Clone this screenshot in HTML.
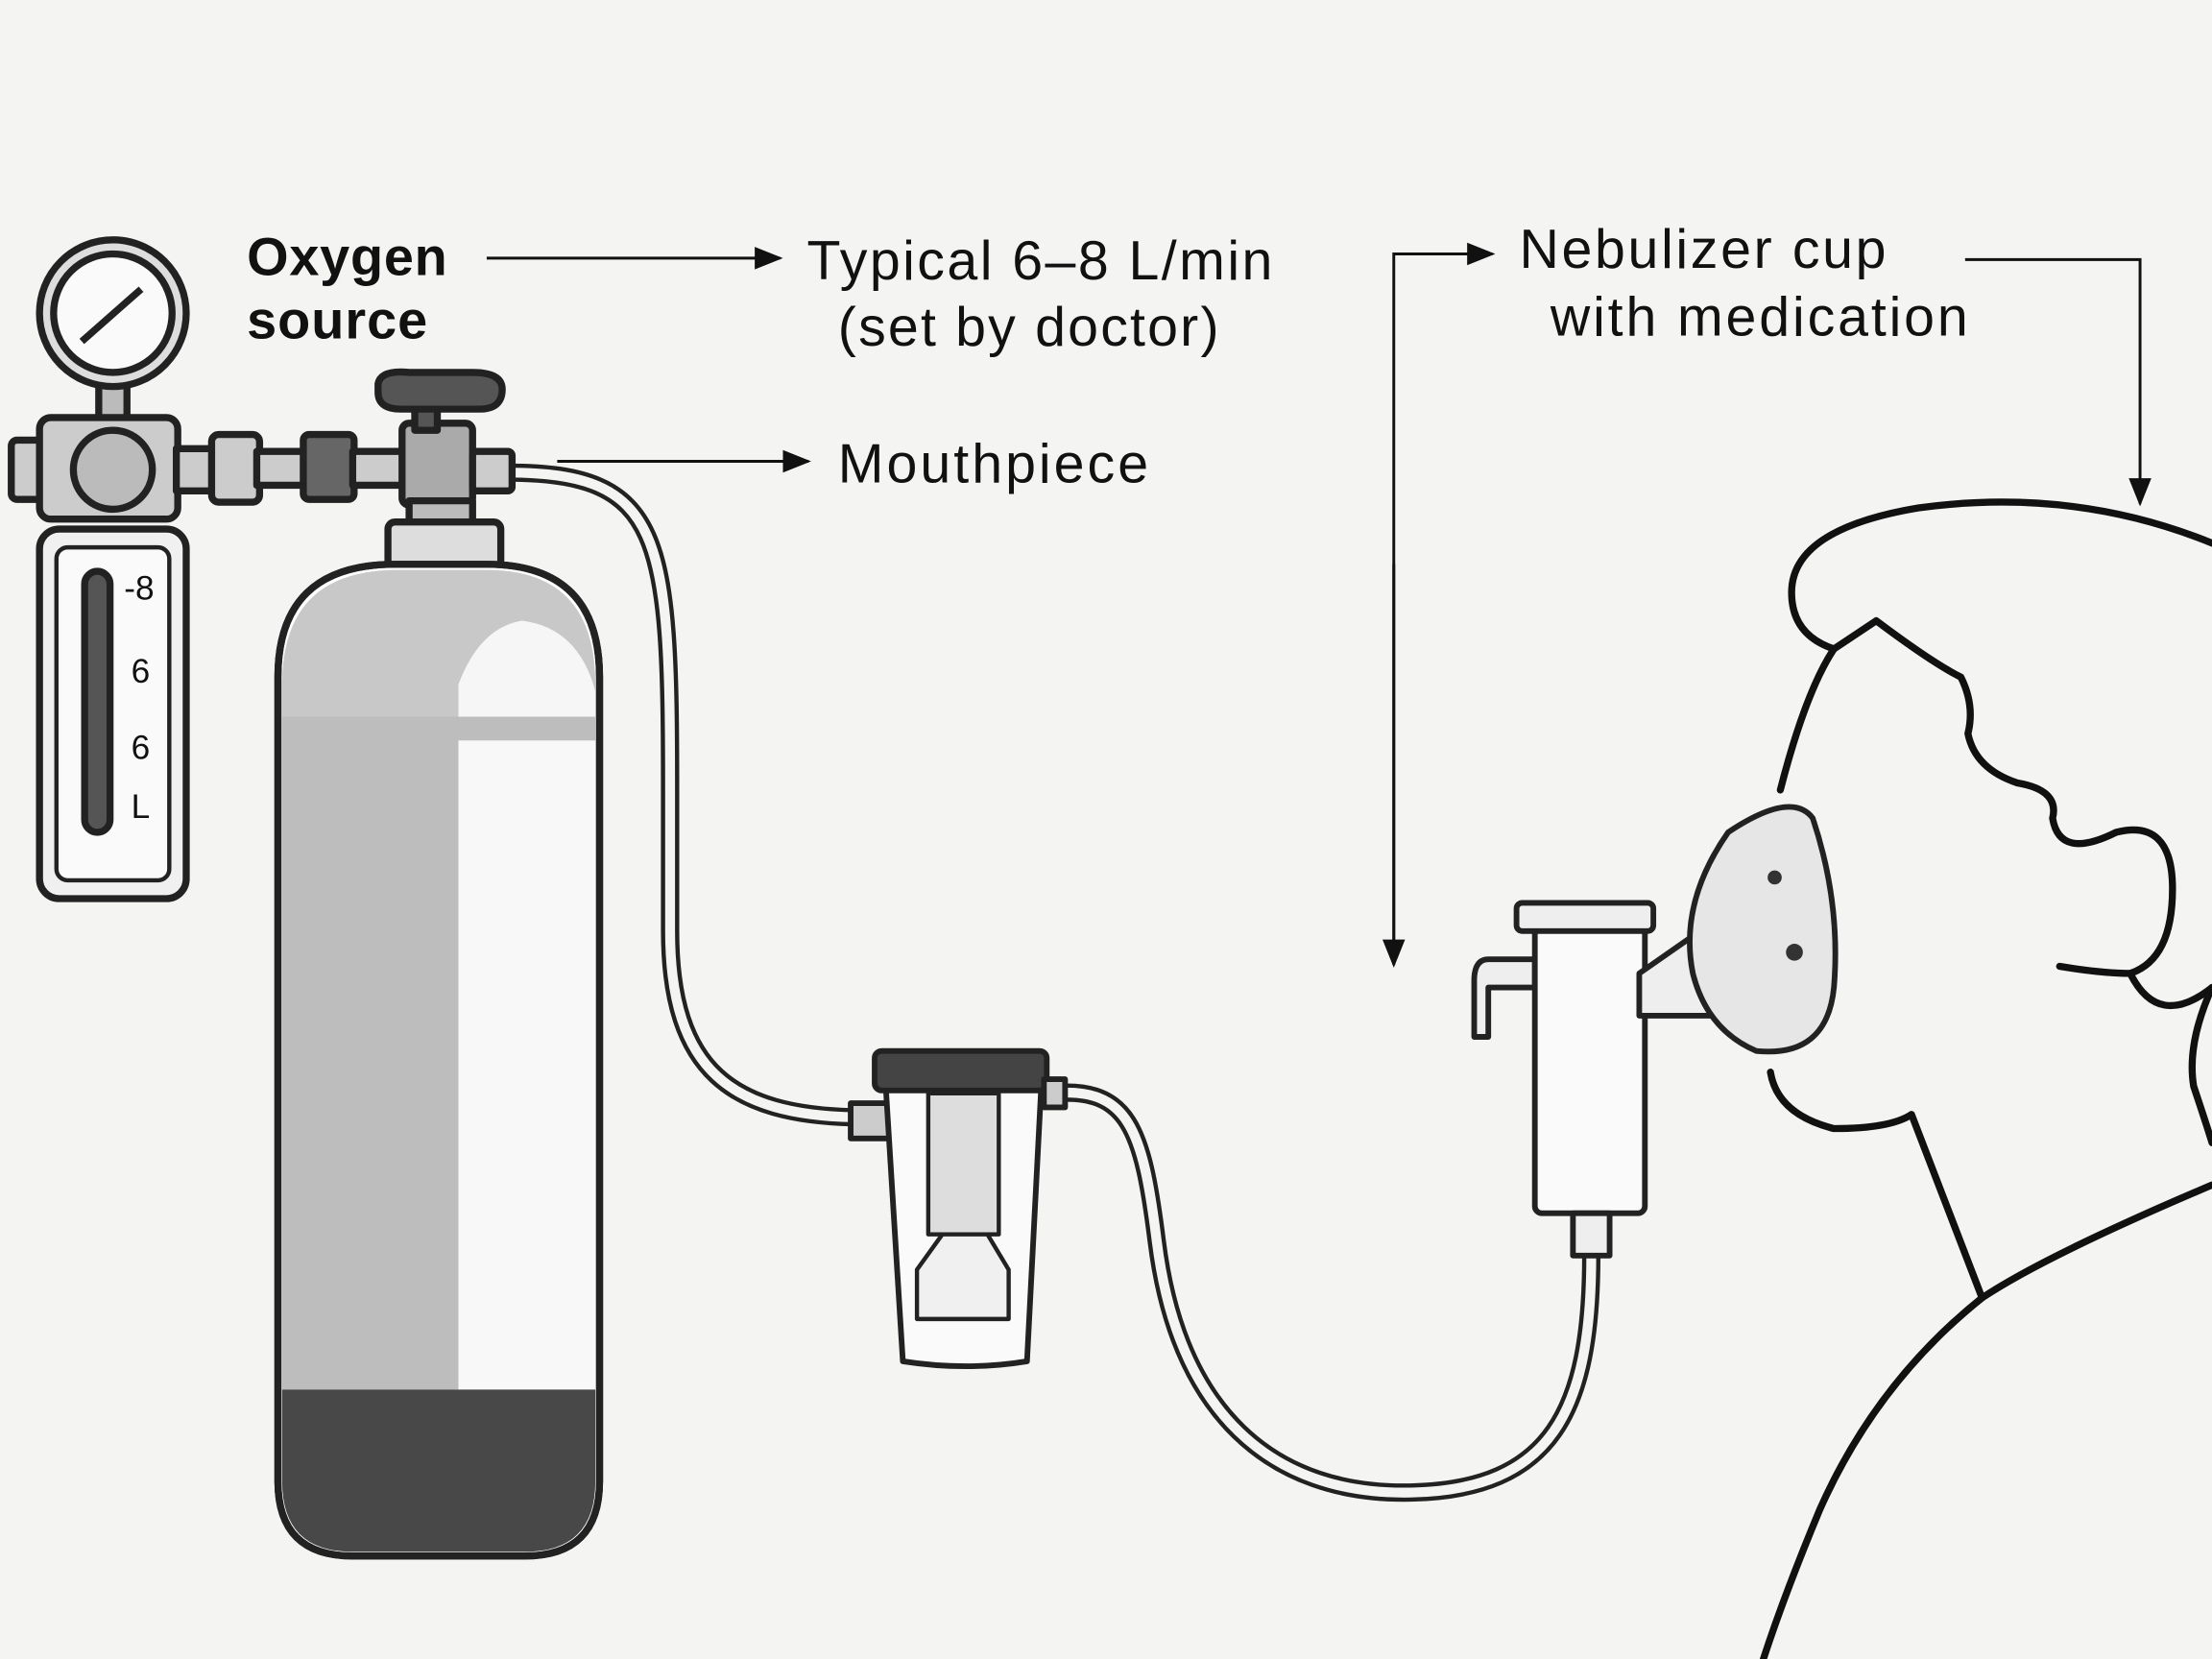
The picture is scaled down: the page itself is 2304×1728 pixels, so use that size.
<!DOCTYPE html>
<html><head><meta charset="utf-8"><style>
html,body{margin:0;padding:0;background:#f4f4f2;}
svg{display:block}
text{font-family:"Liberation Sans",sans-serif;fill:#111}
</style></head><body>
<svg width="2304" height="1728" viewBox="0 0 1568 1176" xmlns="http://www.w3.org/2000/svg">
<defs>
<marker id="b" markerWidth="20" markerHeight="20" refX="18" refY="10" orient="auto" markerUnits="userSpaceOnUse" viewBox="0 0 20 20"><path d="M0,2 L20,10 L0,18 z" fill="#111"/></marker></defs>
<rect width="1568" height="1176" fill="#f4f4f2"/>
<g fill="none" stroke-linecap="round">
<path d="M360,335 C470,335 475,380 475,560 L475,660 C475,760 520,790 605,792" stroke="#222" stroke-width="13"/>
<path d="M360,335 C470,335 475,380 475,560 L475,660 C475,760 520,790 605,792" stroke="#f4f4f2" stroke-width="7"/>
<path d="M745,775 C800,770 810,800 820,880 C835,1000 900,1060 1000,1058 C1100,1056 1128,1000 1128,890" stroke="#222" stroke-width="13"/>
<path d="M745,775 C800,770 810,800 820,880 C835,1000 900,1060 1000,1058 C1100,1056 1128,1000 1128,890" stroke="#f4f4f2" stroke-width="7"/>
</g>
<g stroke="#222" stroke-width="5" stroke-linejoin="round">
<rect x="70" y="268" width="20" height="30" fill="#bbb"/>
<circle cx="80" cy="222" r="52" fill="#ddd"/>
<circle cx="80" cy="222" r="42" fill="#fafafa"/>
<line x1="58" y1="242" x2="100" y2="205" stroke-width="5"/>
<rect x="8" y="312" width="26" height="42" rx="4" fill="#ccc"/>
<rect x="28" y="296" width="98" height="72" rx="8" fill="#ccc"/>
<circle cx="80" cy="333" r="28" fill="#bbb"/>
<rect x="28" y="375" width="104" height="262" rx="14" fill="#f0f0f0"/>
<rect x="40" y="388" width="80" height="236" rx="8" fill="#fafafa" stroke-width="3"/>
<rect x="60" y="405" width="18" height="185" rx="9" fill="#555"/>
<rect x="125" y="318" width="28" height="30" fill="#ccc"/>
<rect x="150" y="308" width="34" height="48" rx="5" fill="#ccc"/>
<rect x="182" y="320" width="35" height="24" fill="#ccc"/>
<rect x="215" y="308" width="36" height="46" rx="4" fill="#666"/>
<rect x="250" y="320" width="40" height="24" fill="#ccc"/>
<rect x="285" y="300" width="50" height="58" rx="5" fill="#aaa"/>
<rect x="335" y="320" width="28" height="28" rx="3" fill="#ccc"/>
<rect x="294" y="285" width="16" height="20" fill="#555"/>
<path d="M268,272 Q270,262 290,264 L335,264 Q356,264 356,276 Q356,290 340,290 L284,290 Q268,290 268,278 z" fill="#555"/>
<rect x="290" y="355" width="45" height="20" fill="#bbb"/>
<rect x="275" y="370" width="80" height="32" rx="5" fill="#ddd"/>
<path d="M197,1050 L197,480 Q197,400 280,400 L345,400 Q425,400 425,480 L425,1050 Q425,1103 372,1103 L250,1103 Q197,1103 197,1050 z" fill="#fff"/>
</g>
<path d="M200,508 L422,508 L422,525 L325,525 L325,985 L200,985 z" fill="#bdbdbd"/>
<path d="M325,525 L422,525 L422,985 L325,985 z" fill="#f8f8f8"/>
<path d="M200,485 Q200,405 280,404 L345,404 Q422,404 422,485 L422,508 L200,508 z" fill="#c8c8c8"/>
<path d="M325,508 L325,485 Q340,445 370,440 Q410,445 422,490 L422,508 z" fill="#f6f6f6"/>
<path d="M200,985 L422,985 L422,1050 Q422,1100 372,1100 L250,1100 Q200,1100 200,1050 z" fill="#484848"/>
<path d="M197,1050 L197,480 Q197,400 280,400 L345,400 Q425,400 425,480 L425,1050 Q425,1103 372,1103 L250,1103 Q197,1103 197,1050 z" fill="none" stroke="#222" stroke-width="5"/>
<g stroke="#222" stroke-width="4" stroke-linejoin="round">
<rect x="603" y="782" width="35" height="25" fill="#ccc"/>
<path d="M628,772 L738,772 L728,965 Q685,972 640,965 z" fill="#fafafa"/>
<rect x="620" y="745" width="122" height="28" rx="5" fill="#444"/>
<rect x="658" y="775" width="50" height="100" fill="#ddd" stroke-width="3"/>
<path d="M668,875 L700,875 L715,900 L715,935 L650,935 L650,900 z" fill="#f0f0f0" stroke-width="3"/>
<rect x="740" y="765" width="15" height="20" fill="#ccc"/>
</g>
<g stroke="#222" stroke-width="4" stroke-linejoin="round">
<path d="M1088,680 L1055,680 Q1045,680 1045,695 L1045,735 L1055,735 L1055,700 L1088,700 z" fill="#eee"/>
<rect x="1088" y="655" width="78" height="205" rx="5" fill="#fafafa"/>
<rect x="1075" y="640" width="97" height="20" rx="4" fill="#eee"/>
<rect x="1115" y="860" width="26" height="30" fill="#eee"/>
<path d="M1162,690 L1205,660 L1225,720 L1162,720 z" fill="#eee"/>
<path d="M1225,590 Q1270,560 1285,580 Q1305,640 1300,700 Q1295,750 1245,745 Q1210,730 1200,690 Q1190,640 1225,590 z" fill="#e6e6e6"/>
</g>
<circle cx="1258" cy="622" r="5" fill="#333"/><circle cx="1272" cy="675" r="6" fill="#333"/>
<g fill="none" stroke="#111" stroke-width="5" stroke-linecap="round" stroke-linejoin="round">
<path d="M1568,385 Q1470,345 1360,360 Q1270,375 1270,420 Q1270,450 1300,460 L1330,440 Q1370,470 1390,480 Q1400,500 1395,520 Q1400,545 1430,555 Q1460,560 1455,580 Q1460,610 1500,590 Q1540,580 1540,630 Q1540,680 1510,690 Q1530,730 1568,700"/>
<path d="M1300,460 Q1280,490 1262,560"/>
<path d="M1460,685 Q1490,690 1510,690"/>
<path d="M1255,760 Q1260,790 1300,800 Q1340,800 1355,790 L1405,920 Q1450,890 1568,840"/>
<path d="M1568,700 Q1550,740 1555,770 Q1565,800 1568,810"/>
<path d="M1405,920 Q1330,980 1290,1070 Q1265,1130 1250,1176"/>
</g>
<text x="175" y="195" font-size="38" font-weight="bold" fill="#222" textLength="142">Oxygen</text>
<text x="175" y="240" font-size="38" font-weight="bold" fill="#222" textLength="128">source</text>
<text x="572" y="198" font-size="39" textLength="330">Typical 6–8 L/min</text>
<text x="594" y="245" font-size="39" textLength="270">(set by doctor)</text>
<text x="594" y="342" font-size="39" textLength="220">Mouthpiece</text>
<text x="1077" y="190" font-size="39" textLength="260">Nebulizer cup</text>
<text x="1099" y="238" font-size="39" textLength="296">with medication</text>
<text x="88" y="425" font-size="24">-8</text><text x="93" y="484" font-size="24">6</text><text x="93" y="538" font-size="24">6</text><text x="93" y="580" font-size="24">L</text>
<g stroke="#111" stroke-width="2" fill="none">
<line x1="345" y1="183" x2="553" y2="183" marker-end="url(#b)"/>
<line x1="395" y1="327" x2="573" y2="327" marker-end="url(#b)"/>
<polyline points="988,683 988,180 1058,180" marker-end="url(#b)"/>
<line x1="988" y1="400" x2="988" y2="684" marker-end="url(#b)"/>
<polyline points="1393,184 1517,184 1517,357" marker-end="url(#b)"/>
</g>
</svg>
</body></html>
